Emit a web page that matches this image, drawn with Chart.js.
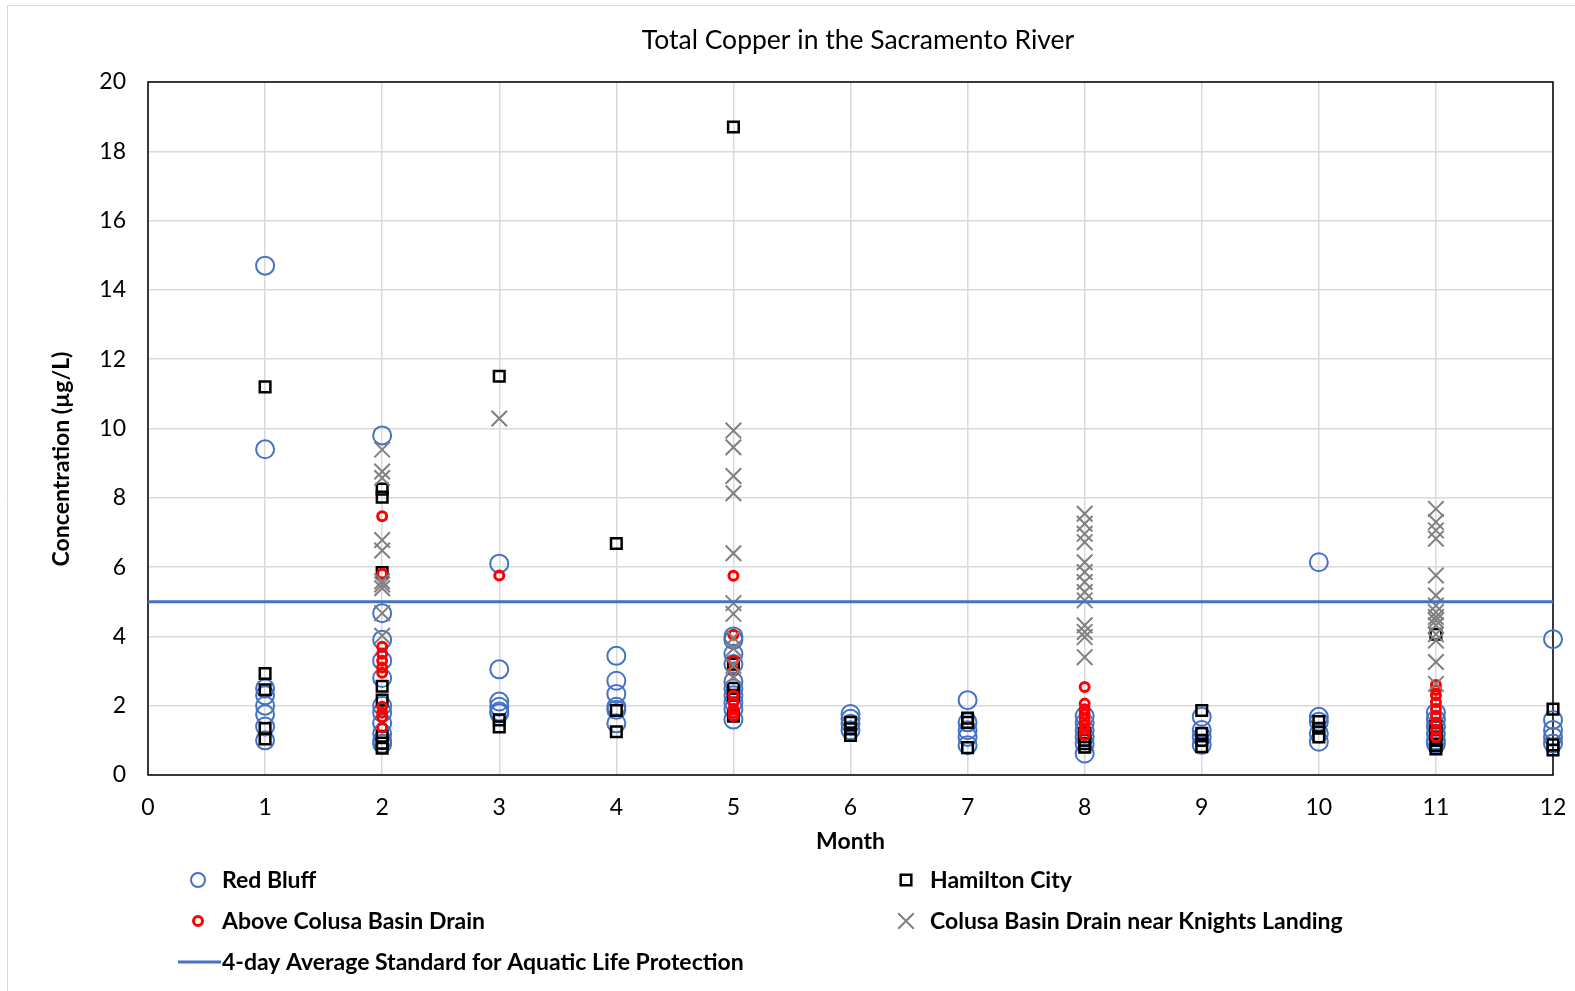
<!DOCTYPE html>
<html>
<head>
<meta charset="utf-8">
<script src="https://cdn.jsdelivr.net/npm/chart.js@4.4.0/dist/chart.umd.min.js"></script>
<style>
  body { margin: 0; background: #fff; }
</style>
</head>
<body>
<canvas id="myChart" width="1575" height="991"></canvas>
<script>

// values per month (index 0 = month 1 ... index 11 = month 12), µg/L
const redBluff = [
    [14.7, 9.4, 2.5, 2.3, 2.0, 1.75, 1.4, 1.0],
    [9.8, 4.67, 3.9, 3.3, 2.8, 2.0, 1.8, 1.5, 1.2, 1.0, 0.9],
    [6.1, 3.05, 2.12, 1.97, 1.83, 1.78],
    [3.44, 2.72, 2.34, 1.97, 1.88, 1.49],
    [4.0, 3.9, 3.5, 3.2, 2.7, 2.5, 2.3, 2.1, 1.9, 1.6],
    [1.76, 1.62, 1.48, 1.29],
    [2.16, 1.52, 1.29, 1.10, 0.86],
    [1.7, 1.5, 1.3, 1.1, 0.9, 0.62],
    [1.68, 1.3, 1.1, 0.87],
    [6.14, 1.68, 1.54, 1.2, 0.96],
    [1.8, 1.6, 1.4, 1.2, 1.0, 0.9],
    [3.92, 1.59, 1.3, 1.1, 0.91]
];

const hamiltonCity = [
    [11.2, 2.93, 2.46, 1.34, 1.04],
    [8.25, 8.02, 5.84, 2.56, 2.16, 1.12, 0.92, 0.77],
    [11.51, 1.59, 1.39],
    [6.68, 1.86, 1.25],
    [18.7, 3.2, 2.5, 2.3, 1.7],
    [1.52, 1.33, 1.14],
    [1.64, 1.52, 0.79],
    [1.2, 1.0, 0.9, 0.8],
    [1.86, 1.2, 1.0, 0.82],
    [1.54, 1.35, 1.1],
    [4.06, 1.4, 1.2, 1.0, 0.85, 0.75],
    [1.9, 0.87, 0.72]
];

const aboveColusa = [
    [],
    [7.47, 5.81, 3.7, 3.5, 3.3, 3.1, 2.95, 1.97, 1.8, 1.67, 1.37],
    [5.76],
    [],
    [5.75, 4.05, 3.3, 3.0, 2.3, 2.1, 1.9, 1.8, 1.7],
    [],
    [],
    [2.54, 2.06, 1.9, 1.75, 1.6, 1.45, 1.3, 1.15],
    [],
    [],
    [2.6, 2.45, 2.3, 2.1, 1.9, 1.7, 1.5, 1.3, 1.1],
    []
];

const knightsLanding = [
    [],
    [9.39, 8.76, 8.57, 6.78, 6.48, 5.59, 5.5, 5.39, 4.67, 4.02],
    [10.29],
    [],
    [9.94, 9.46, 8.63, 8.13, 6.4, 4.96, 4.65, 3.96, 3.65, 3.15, 2.84],
    [],
    [],
    [7.54, 7.25, 6.96, 6.72, 6.14, 5.86, 5.57, 5.28, 5.04, 4.32, 4.13, 3.98, 3.40],
    [],
    [],
    [7.68, 7.3, 7.06, 6.82, 5.76, 5.18, 4.89, 4.7, 4.56, 4.46, 4.32, 4.06, 3.88, 3.26, 2.63],
    []
];

const standardMonths = [0, 12];
const standardValue = [5, 5];

const seriesNames = [
    'Red Bluff',
    'Hamilton City',
    'Above Colusa Basin Drain',
    'Colusa Basin Drain near Knights Landing',
    '4-day Average Standard for Aquatic Life Protection'
];

const toPoints = (byMonth) => {
    const pts = [];
    byMonth.forEach((vals, i) => {
        vals.forEach(v => pts.push({ x: i + 1, y: v }));
    });
    return pts;
}

const FONT = 'Lato, "Open Sans", sans-serif';

const data = {
    datasets: [
        {
            label: seriesNames[0],
            data: toPoints(redBluff),
            pointStyle: 'circle',
            pointRadius: 9,
            pointBorderWidth: 2,
            borderColor: '#4472C4',
            backgroundColor: 'rgba(0,0,0,0)',
            showLine: false,
            clip: false,
            order: 5
        },
        {
            label: seriesNames[1],
            data: toPoints(hamiltonCity),
            pointStyle: 'rect',
            pointRadius: 7.5,
            pointBorderWidth: 2.5,
            borderColor: '#000000',
            backgroundColor: 'rgba(0,0,0,0)',
            showLine: false,
            clip: false,
            order: 4
        },
        {
            label: seriesNames[2],
            data: toPoints(aboveColusa),
            pointStyle: 'circle',
            pointRadius: 4.5,
            pointBorderWidth: 3,
            borderColor: '#FF0000',
            backgroundColor: 'rgba(0,0,0,0)',
            showLine: false,
            clip: false,
            order: 3
        },
        {
            label: seriesNames[3],
            data: toPoints(knightsLanding),
            pointStyle: 'crossRot',
            pointRadius: 11,
            pointBorderWidth: 2,
            borderColor: '#808080',
            backgroundColor: 'rgba(0,0,0,0)',
            showLine: false,
            clip: false,
            order: 2
        },
        {
            label: seriesNames[4],
            type: 'line',
            data: standardMonths.map((m, i) => ({ x: m, y: standardValue[i] })),
            borderColor: '#4472C4',
            borderWidth: 3,
            pointRadius: 0,
            fill: false,
            order: 1
        }
    ]
};

// frame, titles, legend and the outer border
const decorations = {
    id: 'decorations',
    beforeDatasetsDraw(chart) {
        const { ctx, chartArea: a } = chart;
        ctx.save();
        ctx.strokeStyle = '#000';
        ctx.lineWidth = 1.5;
        ctx.strokeRect(a.left, a.top, a.right - a.left, a.bottom - a.top);
        ctx.restore();
    },
    afterDraw(chart) {
        const { ctx, chartArea: a } = chart;
        ctx.save();

        // only top and left edges of the outer frame are visible
        ctx.strokeStyle = '#d9d9d9';
        ctx.lineWidth = 1;
        ctx.beginPath();
        ctx.moveTo(7.5, 991);
        ctx.lineTo(7.5, 5.5);
        ctx.lineTo(1575, 5.5);
        ctx.stroke();

        ctx.fillStyle = '#000';
        ctx.textAlign = 'center';
        ctx.textBaseline = 'middle';
        ctx.font = '26.5px ' + FONT;
        ctx.fillText('Total Copper in the Sacramento River', 858, 40);

        ctx.font = 'bold 23px ' + FONT;
        ctx.fillText('Month', (a.left + a.right) / 2, 842);

        ctx.save();
        ctx.translate(62, 459);
        ctx.rotate(-Math.PI / 2);
        ctx.fillText('Concentration (µg/L)', 0, 0);
        ctx.restore();

        // legend
        const ds = chart.data.datasets;
        const items = [
            { i: 0, x: 198, y: 880, r: 7 },
            { i: 1, x: 906, y: 880, r: 7.5 },
            { i: 2, x: 198, y: 921, r: 4.5 },
            { i: 3, x: 906, y: 921, r: 11 }
        ];
        items.forEach(it => {
            const d = ds[it.i];
            ctx.strokeStyle = d.borderColor;
            ctx.fillStyle = 'rgba(0,0,0,0)';
            ctx.lineWidth = d.pointBorderWidth;
            Chart.helpers.drawPoint(ctx, {
                pointStyle: d.pointStyle,
                radius: it.r,
                rotation: 0,
                borderWidth: d.pointBorderWidth
            }, it.x, it.y);
            ctx.fillStyle = '#000';
            ctx.textAlign = 'left';
            ctx.fillText(d.label, it.x + 24, it.y + 1);
        });
        ctx.strokeStyle = '#4472C4';
        ctx.lineWidth = 3;
        ctx.beginPath();
        ctx.moveTo(178, 962);
        ctx.lineTo(221, 962);
        ctx.stroke();
        ctx.fillText(ds[4].label, 222, 963);

        ctx.restore();
    }
};

const config = {
    type: 'scatter',
    data,
    options: {
        responsive: false,
        animation: false,
        layout: {
            padding: { top: 82, right: 22, left: 0, bottom: 0 }
        },
        scales: {
            x: {
                type: 'linear',
                min: 0,
                max: 12,
                ticks: {
                    stepSize: 1,
                    color: '#000',
                    padding: 19,
                    font: { family: FONT, size: 23 }
                },
                grid: {
                    color: '#d9d9d9',
                    lineWidth: 1.5,
                    drawTicks: false
                },
                border: { display: false },
                afterFit: (scale) => {
                    scale.height = 216;
                    scale.paddingLeft = 0;
                    scale.paddingRight = 0;
                }
            },
            y: {
                min: 0,
                max: 20,
                ticks: {
                    stepSize: 2,
                    color: '#000',
                    padding: 22,
                    font: { family: FONT, size: 23 }
                },
                grid: {
                    color: '#d9d9d9',
                    lineWidth: 1.5,
                    drawTicks: false
                },
                border: { display: false },
                afterFit: (scale) => {
                    scale.width = 148;
                    scale.paddingTop = 0;
                    scale.paddingBottom = 0;
                }
            }
        },
        plugins: {
            legend: { display: false },
            tooltip: { enabled: false }
        }
    },
    plugins: [decorations]
};

const myChart = new Chart(
    document.getElementById('myChart').getContext('2d'),
    config
);
</script>
</body>
</html>
